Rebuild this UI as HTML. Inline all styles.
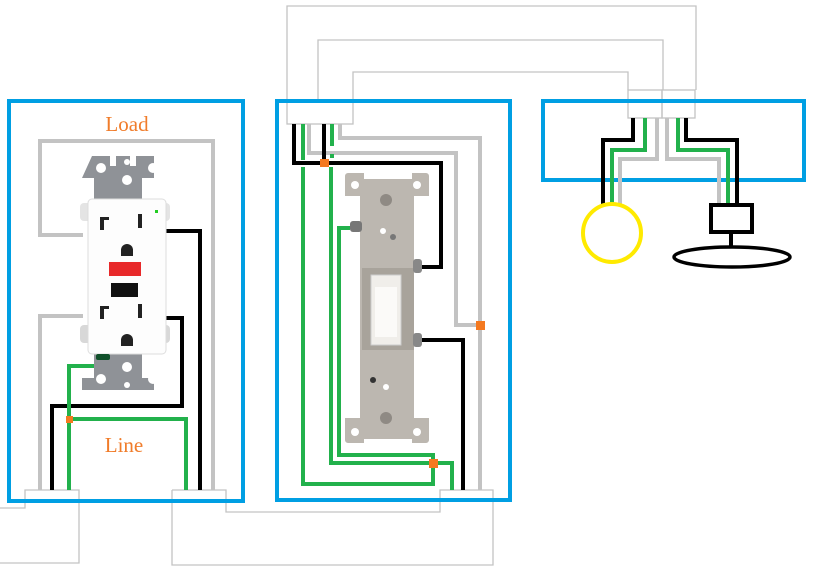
<!DOCTYPE html>
<html><head><meta charset="utf-8"><style>
html,body{margin:0;padding:0;background:#fff;}
svg{display:block;}
text{font-family:"Liberation Serif",serif;}
</style></head><body>
<svg width="826" height="580" viewBox="0 0 826 580" xmlns="http://www.w3.org/2000/svg">
<!-- thin gray connectors -->
<g fill="none" stroke="#c3c3c3" stroke-width="1.3">
<polyline points="287,100 287,6 696,6 696,90"/>
<polyline points="318,100 318,40 663,40 663,90"/>
<polyline points="353,100 353,72 628,72 628,90"/>
<rect x="287" y="100" width="66" height="24"/>
<rect x="628" y="90" width="34" height="28"/>
<rect x="662" y="90" width="33" height="28"/>
<polyline points="0,508 25,508 25,490 79,490 79,563 0,563"/>
<polyline points="172,490 226,490 226,512 440,512 440,490 493,490 493,565 172,565 172,490"/>
</g>
<!-- blue boxes -->
<g fill="none" stroke="#009fe3" stroke-width="4">
<rect x="9" y="101" width="234" height="400"/>
<rect x="277" y="101" width="233" height="399"/>
<rect x="543" y="101" width="261" height="79"/>
</g>
<!-- left box wires -->
<g fill="none" stroke-width="4" stroke-linejoin="miter">
<polyline stroke="#c3c3c3" points="83,235 40,235 40,141 213,141 213,490"/>
<polyline stroke="#c3c3c3" points="83,316 40,316 40,490"/>
<polyline stroke="#000" points="166,231 200,231 200,490"/>
<polyline stroke="#000" points="166,318 182,318 182,406 52,406 52,490"/>
<polyline stroke="#22b14c" points="104,360 104,366 69,366 69,490"/>
<polyline stroke="#22b14c" points="69,419 186,419 186,490"/>
</g>
<!-- receptacle -->
<g>
<path d="M92,156 h18 v10 h6 v-10 h14 v10 h6 v-10 h18 v22 h-12 v200 h12 v12 h-72 v-12 h12 v-200 h-12z" fill="#8f9297"/>
<circle cx="101" cy="168" r="5" fill="#fff"/><circle cx="153" cy="168" r="5" fill="#fff"/><circle cx="127" cy="162" r="3" fill="#fff"/>
<circle cx="127" cy="180" r="5" fill="#fff"/>
<circle cx="101" cy="379" r="5" fill="#fff"/><circle cx="153" cy="379" r="5" fill="#fff"/><circle cx="127" cy="385" r="3" fill="#fff"/>
<circle cx="127" cy="367" r="5" fill="#fff"/>
<rect x="80" y="203" width="90" height="18" rx="4" fill="#e4e4e4"/>
<rect x="80" y="325" width="90" height="18" rx="4" fill="#d8d8d8"/>
<rect x="88" y="199" width="78" height="155" rx="4" fill="#fdfdfd" stroke="#ddd"/>
<rect x="155" y="210" width="3" height="3" fill="#2c2"/>
<path d="M100,217 h9 v3 h-5 v10 h-4z" fill="#222"/><rect x="138" y="214" width="4" height="14" fill="#222"/>
<path d="M121,250 a6,6 0 0 1 12,0 v6 h-12z" fill="#222"/>
<rect x="109" y="262" width="32" height="14" fill="#e8292a"/>
<rect x="111" y="283" width="27" height="14" fill="#111"/>
<path d="M100,306 h9 v3 h-5 v10 h-4z" fill="#222"/><rect x="138" y="304" width="4" height="14" fill="#222"/>
<path d="M121,340 a6,6 0 0 1 12,0 v6 h-12z" fill="#222"/>
<rect x="96" y="354" width="14" height="6" rx="2" fill="#10502a"/>
</g>
<rect x="66" y="416" width="7" height="7" fill="#f47920"/>
<text x="127" y="131" font-size="21" fill="#f07c2a" text-anchor="middle">Load</text>
<text x="124" y="452" font-size="21" fill="#f07c2a" text-anchor="middle">Line</text>
<!-- middle box wires -->
<g fill="none" stroke-width="4">
<polyline stroke="#c3c3c3" points="340,124 340,138 480,138 480,490"/>
<polyline stroke="#c3c3c3" points="309,124 309,153 456,153 456,325 480,325"/>
<polyline stroke="#000" points="294,124 294,163 441,163 441,267 418,267"/>
<polyline stroke="#000" points="324,124 324,163"/>
<polyline stroke="#000" points="418,340 463,340 463,490"/>
<polyline stroke="#22b14c" points="303,124 303,160"/>
<polyline stroke="#22b14c" points="303,167 303,484 433,484 433,463"/>
<polyline stroke="#22b14c" points="332,124 332,146"/>
<polyline stroke="#22b14c" points="332,154 332,158"/>
<polyline stroke="#22b14c" points="331,167 331,463 452,463 452,490"/>
<polyline stroke="#22b14c" points="350,228 339,228 339,455 433,455 433,463"/>
</g>
<!-- switch -->
<g>
<path d="M348,173 h16 v6 h48 v-6 h14 a3,3 0 0 1 3,3 v20 h-15 v222 h15 v22 a3,3 0 0 1 -3,3 h-14 v-4 h-48 v4 h-16 a3,3 0 0 1 -3,-3 v-22 h15 v-222 h-15 v-20 a3,3 0 0 1 3,-3z" fill="#bcb7b0"/>
<circle cx="355" cy="185" r="4" fill="#fff"/><circle cx="417" cy="185" r="4" fill="#fff"/>
<circle cx="355" cy="432" r="4" fill="#fff"/><circle cx="417" cy="432" r="4" fill="#fff"/>
<circle cx="386" cy="200" r="6" fill="#8f8a84"/><circle cx="386" cy="418" r="6" fill="#8f8a84"/>
<circle cx="383" cy="231" r="3" fill="#fff"/><circle cx="393" cy="237" r="3" fill="#777"/>
<circle cx="373" cy="380" r="3" fill="#333"/><circle cx="386" cy="387" r="3" fill="#fff"/>
<rect x="362" y="268" width="52" height="82" fill="#a8a39b"/>
<rect x="371" y="275" width="30" height="70" fill="#f0eeea" stroke="#ccc"/>
<rect x="375" y="287" width="22" height="50" fill="#fbfaf8"/>
<rect x="350" y="221" width="12" height="11" rx="3" fill="#777"/>
<rect x="413" y="259" width="9" height="14" rx="3" fill="#888"/>
<rect x="413" y="333" width="9" height="14" rx="3" fill="#888"/>
</g>
<rect x="320" y="159" width="9" height="8" fill="#f47920"/>
<rect x="476" y="321" width="9" height="9" fill="#f47920"/>
<rect x="429" y="459" width="9" height="9" fill="#f47920"/>
<!-- right box wires -->
<g fill="none" stroke-width="4">
<polyline stroke="#000" points="633,118 633,140 603,140 603,206"/>
<polyline stroke="#22b14c" points="645,118 645,150 612,150 612,206"/>
<polyline stroke="#c3c3c3" points="657,118 657,159 620,159 620,206"/>
<polyline stroke="#c3c3c3" points="667,118 667,159 719,159 719,206"/>
<polyline stroke="#22b14c" points="678,118 678,150 728,150 728,206"/>
<polyline stroke="#000" points="686,118 686,140 737,140 737,206"/>
<circle cx="612" cy="233" r="29" stroke="#ffea00" stroke-width="4" fill="#fff"/>
<rect x="711" y="205" width="41" height="27" stroke="#000" stroke-width="4" fill="#fff"/>
<line x1="731" y1="232" x2="731" y2="248" stroke="#000" stroke-width="4"/>
<ellipse cx="732" cy="257" rx="58" ry="10" stroke="#000" stroke-width="3.5"/>
</g>
</svg>
</body></html>
